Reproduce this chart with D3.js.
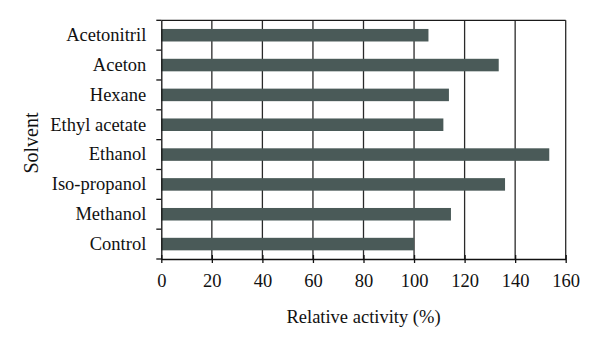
<!DOCTYPE html>
<html>
<head>
<meta charset="utf-8">
<script src="https://cdn.jsdelivr.net/npm/d3@7"></script>
<style>
  html, body { margin: 0; padding: 0; background: #fff; }
  svg { display: block; }
  text { font-family: "Liberation Serif", "DejaVu Serif", serif; fill: #111; }
</style>
</head>
<body>
<svg id="chart" width="600" height="347"></svg>
<script>
const categories = ["Acetonitril", "Aceton", "Hexane", "Ethyl acetate", "Ethanol", "Iso-propanol", "Methanol", "Control"];
const values = [105.7, 133.5, 113.8, 111.6, 153.5, 136, 114.6, 100];
const xTicks = [0, 20, 40, 60, 80, 100, 120, 140, 160];
const xTitle = "Relative activity (%)";
const yTitle = "Solvent";

const svg = d3.select("#chart");
const m = { left: 161.3, right: 565.7, top: 20.3, bottom: 259 };
const FS = 18.5;

const x = d3.scaleLinear().domain([0, 160]).range([m.left, m.right]);
const y = d3.scaleBand().domain(categories).range([m.top, m.bottom]).paddingInner(0.58).paddingOuter(0.29);
const yb = d3.scaleBand().domain(categories).range([m.top, m.bottom]);

// vertical gridlines
svg.append("g").selectAll("line").data(xTicks.slice(1)).join("line")
  .attr("x1", d => x(d)).attr("x2", d => x(d))
  .attr("y1", m.top).attr("y2", m.bottom)
  .attr("stroke", "#2a2a2a").attr("stroke-width", 1.3);

// top border
svg.append("line").attr("x1", m.left).attr("x2", m.right)
  .attr("y1", m.top).attr("y2", m.top)
  .attr("stroke", "#1a1a1a").attr("stroke-width", 1.3);

// bars
svg.append("g").selectAll("rect").data(categories).join("rect")
  .attr("x", x(0))
  .attr("y", d => y(d))
  .attr("width", (d, i) => x(values[i]) - x(0))
  .attr("height", y.bandwidth())
  .attr("fill", "#4a5a58");

// x axis
const xAxis = svg.append("g").attr("transform", `translate(0,${m.bottom})`)
  .call(d3.axisBottom(x).tickValues(xTicks).tickSize(6).tickSizeOuter(0).tickPadding(9));
xAxis.select(".domain").attr("stroke", "#111").attr("stroke-width", 1.3);
xAxis.selectAll(".tick line").attr("stroke", "#111").attr("stroke-width", 1.3).attr("y1", -4).attr("y2", 4);
xAxis.selectAll(".tick text").attr("font-size", FS).attr("fill", "#111")
  .attr("font-family", "Liberation Serif, DejaVu Serif, serif");

// y axis
const yAxis = svg.append("g").attr("transform", `translate(${m.left},0)`)
  .call(d3.axisLeft(yb).tickSize(0).tickPadding(15));
yAxis.select(".domain").attr("stroke", "#111").attr("stroke-width", 1.3);
yAxis.selectAll(".tick text").attr("font-size", FS).attr("fill", "#111")
  .attr("font-family", "Liberation Serif, DejaVu Serif, serif");
// band boundary ticks
const bounds = categories.map(c => yb(c)).concat([m.bottom]);
svg.append("g").selectAll("line").data(bounds).join("line")
  .attr("x1", m.left - 5).attr("x2", m.left)
  .attr("y1", d => d).attr("y2", d => d)
  .attr("stroke", "#111").attr("stroke-width", 1.3);

// titles
svg.append("text").attr("x", (m.left + m.right) / 2).attr("y", 323)
  .attr("text-anchor", "middle").attr("font-size", FS).text(xTitle);
svg.append("text")
  .attr("transform", `translate(37.5,143) rotate(-90)`)
  .attr("text-anchor", "middle").attr("font-size", 20).text(yTitle);
</script>
</body>
</html>
